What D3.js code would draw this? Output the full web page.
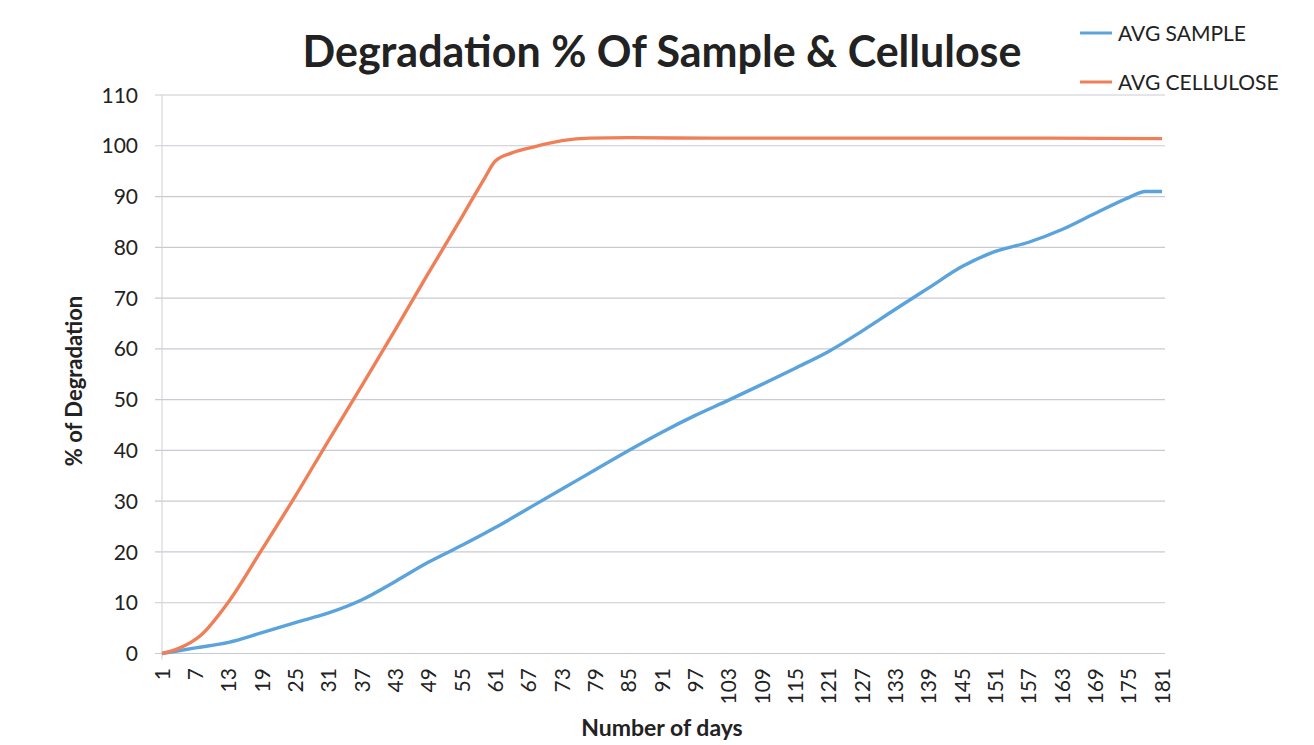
<!DOCTYPE html>
<html>
<head>
<meta charset="utf-8">
<script src="https://cdn.jsdelivr.net/npm/d3@7"></script>
<style>
  body { margin: 0; background: #fff; }
  text { font-family: Lato, "Open Sans", sans-serif; fill: #222; }
</style>
</head>
<body>
<div id="chart"></div>
<script>
// values
const sampleDays = [1, 7, 13, 19, 25, 31, 37, 43, 49, 55, 61, 67, 73, 79, 85, 91, 97, 103, 109, 115, 121, 127, 133, 139, 145, 151, 157, 163, 169, 175, 178, 181]
const sampleValues = [0, 1.1, 2.2, 4.1, 6.1, 8.0, 10.6, 14.2, 18.0, 21.3, 24.8, 28.6, 32.4, 36.2, 40.0, 43.6, 46.9, 49.9, 53.0, 56.2, 59.5, 63.5, 67.8, 72.0, 76.2, 79.2, 81.0, 83.5, 86.7, 89.8, 91.0, 91.0]

const celluloseDays = [1, 4, 8, 13, 19, 25, 31, 37, 43, 49, 55, 59, 61, 64, 68, 73, 78, 85, 100, 130, 160, 181]
const celluloseValues = [0, 1.0, 3.6, 10.2, 20.5, 31.0, 42.0, 52.8, 63.8, 75.0, 86.0, 93.5, 97.0, 98.6, 99.8, 101.0, 101.5, 101.6, 101.5, 101.5, 101.5, 101.4]

const xTicks = d3.range(1, 182, 6)
const yTicks = d3.range(0, 111, 10)
const seriesNames = ["AVG SAMPLE", "AVG CELLULOSE"]
const seriesColors = ["#5ba3dc", "#f07f58"]

const width = 1314, height = 745

const svg = d3.select("#chart").append("svg")
    .attr("width", width)
    .attr("height", height)

const x = d3.scaleLinear().domain([1, 181]).range([162, 1162])
const y = d3.scaleLinear().domain([0, 110]).range([653.5, 95])

// gridlines
svg.append("g")
    .selectAll("line")
    .data(yTicks)
    .join("line")
    .attr("x1", 155).attr("x2", 1165)
    .attr("y1", d => y(d)).attr("y2", d => y(d))
    .attr("stroke", "#c9cad4")
    .attr("stroke-width", 1.2)

// vertical axis line
svg.append("line")
    .attr("x1", x(1)).attr("x2", x(1))
    .attr("y1", y(110)).attr("y2", y(0) + 6)
    .attr("stroke", "#cfd0d8")

// y tick labels
svg.append("g")
    .selectAll("text")
    .data(yTicks)
    .join("text")
    .attr("x", 138)
    .attr("y", d => y(d))
    .attr("dy", "0.36em")
    .attr("text-anchor", "end")
    .attr("font-size", 21)
    .text(d => d)

// x tick labels (rotated)
svg.append("g")
    .selectAll("text")
    .data(xTicks)
    .join("text")
    .attr("transform", d => `translate(${x(d)},668) rotate(-90)`)
    .attr("dy", "0.36em")
    .attr("text-anchor", "end")
    .attr("font-size", 21)
    .text(d => d)

// axis titles
svg.append("text")
    .attr("x", 662).attr("y", 736)
    .attr("text-anchor", "middle")
    .attr("font-size", 23)
    .attr("font-weight", "bold")
    .text("Number of days")

svg.append("text")
    .attr("transform", "translate(82,381) rotate(-90)")
    .attr("text-anchor", "middle")
    .attr("font-size", 22)
    .attr("font-weight", "bold")
    .text("% of Degradation")

// title, squeezed to the width it has in the picture
const title = svg.append("text")
    .attr("x", 662).attr("y", 67)
    .attr("text-anchor", "middle")
    .attr("font-size", 43)
    .attr("font-weight", "bold")
    .text("Degradation % Of Sample & Cellulose")
const tw = title.node().getComputedTextLength()
if (tw > 722) title.attr("textLength", 722).attr("lengthAdjust", "spacingAndGlyphs")

// lines
const line = d3.line()
    .x(d => x(d[0]))
    .y(d => y(d[1]))
    .curve(d3.curveMonotoneX)

const series = [
    d3.zip(sampleDays, sampleValues),
    d3.zip(celluloseDays, celluloseValues)
]

svg.append("g")
    .selectAll("path")
    .data(series)
    .join("path")
    .attr("fill", "none")
    .attr("stroke", (d, i) => seriesColors[i])
    .attr("stroke-width", 3.4)
    .attr("stroke-linejoin", "round")
    .attr("d", line)

// legend
const legend = svg.append("g")
    .selectAll("g")
    .data(seriesNames)
    .join("g")
    .attr("transform", (d, i) => `translate(1080,${33 + i * 49})`)

legend.append("line")
    .attr("x1", 0).attr("x2", 32)
    .attr("stroke", (d, i) => seriesColors[i])
    .attr("stroke-width", 3)

legend.append("text")
    .attr("x", 38)
    .attr("dy", "0.36em")
    .attr("font-size", 21)
    .text(d => d)
</script>
</body>
</html>
